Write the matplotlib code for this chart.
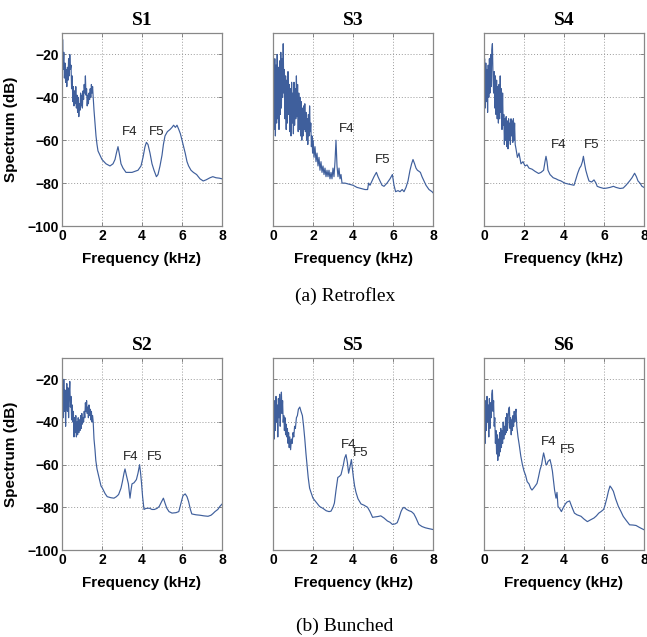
import matplotlib
matplotlib.use("Agg")
import matplotlib.pyplot as plt

# Spectra (frequency in kHz, level in dB) for each speaker
S1_SPECTRUM = [
    (0.00, -38), (0.03, -13), (0.06, -27), (0.09, -19), (0.12, -31), (0.15, -24), (0.18, -33),
    (0.21, -27), (0.24, -35), (0.27, -26), (0.30, -32), (0.33, -22), (0.36, -30), (0.39, -20),
    (0.42, -27), (0.45, -25), (0.48, -36), (0.51, -30), (0.54, -42), (0.57, -35), (0.60, -44),
    (0.63, -37), (0.66, -43), (0.69, -35), (0.72, -45), (0.75, -39), (0.78, -47), (0.81, -40),
    (0.84, -49), (0.87, -43), (0.90, -46), (0.93, -38), (0.96, -44), (0.99, -39), (1.02, -45),
    (1.05, -37), (1.08, -41), (1.11, -34), (1.14, -38), (1.17, -30), (1.20, -39), (1.23, -36),
    (1.26, -44), (1.29, -39), (1.32, -43), (1.35, -38), (1.38, -41), (1.41, -36), (1.44, -40),
    (1.47, -34), (1.50, -38), (1.53, -35), (1.56, -40), (1.60, -46), (1.65, -52), (1.70, -58),
    (1.75, -62), (1.80, -65), (1.90, -67), (2.00, -69), (2.20, -71), (2.40, -72), (2.55, -71),
    (2.65, -69), (2.72, -66), (2.80, -63), (2.88, -67), (2.95, -71), (3.05, -73), (3.20, -75),
    (3.50, -75), (3.80, -74), (3.95, -72), (4.05, -68), (4.15, -63), (4.22, -61), (4.30, -62),
    (4.40, -66), (4.50, -71), (4.60, -74), (4.72, -77), (4.80, -76), (4.90, -72), (5.00, -67),
    (5.07, -62), (5.15, -58), (5.27, -56), (5.40, -55), (5.50, -54), (5.58, -53), (5.67, -54),
    (5.75, -53), (5.84, -55), (5.92, -57), (6.00, -60), (6.08, -63), (6.16, -66), (6.25, -70),
    (6.33, -72), (6.45, -74), (6.57, -75), (6.73, -76), (6.90, -78), (7.06, -79), (7.20, -78.5),
    (7.40, -77.5), (7.54, -77), (7.70, -77.5), (7.87, -77.7), (8.00, -78),
]

S3_SPECTRUM = [
    (0.00, -48), (0.03, -28), (0.06, -55), (0.09, -22), (0.12, -58), (0.15, -25), (0.18, -52),
    (0.21, -20), (0.24, -50), (0.27, -26), (0.30, -55), (0.33, -23), (0.36, -48), (0.39, -19),
    (0.42, -45), (0.45, -22), (0.48, -40), (0.51, -15), (0.54, -38), (0.57, -27), (0.60, -50),
    (0.63, -30), (0.66, -55), (0.69, -32), (0.72, -52), (0.75, -28), (0.78, -48), (0.81, -34),
    (0.84, -56), (0.87, -36), (0.90, -58), (0.93, -33), (0.96, -52), (0.99, -38), (1.02, -57),
    (1.05, -33), (1.08, -53), (1.11, -36), (1.14, -50), (1.17, -30), (1.20, -49), (1.23, -34),
    (1.26, -56), (1.29, -38), (1.32, -55), (1.35, -40), (1.38, -58), (1.41, -42), (1.44, -60),
    (1.47, -45), (1.50, -58), (1.53, -44), (1.56, -55), (1.59, -43), (1.62, -56), (1.65, -47),
    (1.68, -60), (1.71, -50), (1.74, -62), (1.77, -48), (1.80, -58), (1.83, -44), (1.86, -56),
    (1.89, -52), (1.92, -63), (1.95, -58), (1.98, -66), (2.01, -60), (2.05, -68), (2.10, -63),
    (2.15, -70), (2.20, -66), (2.25, -72), (2.30, -68), (2.35, -74), (2.40, -70), (2.45, -75),
    (2.50, -72), (2.55, -76), (2.60, -73), (2.65, -77), (2.70, -74), (2.75, -77), (2.80, -74),
    (2.85, -78), (2.90, -75), (2.95, -78), (3.00, -73), (3.05, -77), (3.10, -70), (3.15, -60),
    (3.20, -72), (3.25, -77), (3.30, -73), (3.35, -78), (3.40, -76), (3.45, -80), (3.60, -80),
    (3.80, -80.5), (4.00, -81), (4.20, -82), (4.40, -82.5), (4.60, -83), (4.73, -83), (4.78, -80),
    (4.85, -81), (4.95, -79), (5.05, -77), (5.17, -75), (5.25, -77), (5.35, -79), (5.45, -81),
    (5.55, -81.5), (5.70, -80), (5.85, -78), (5.97, -76), (6.05, -81), (6.13, -84), (6.25, -83.5),
    (6.35, -84), (6.46, -83), (6.55, -84), (6.65, -82), (6.75, -79), (6.85, -74), (6.93, -71),
    (7.00, -69), (7.08, -71), (7.15, -73), (7.22, -74), (7.30, -74.5), (7.37, -75), (7.45, -77),
    (7.55, -79), (7.65, -81), (7.80, -83), (7.95, -84), (8.00, -84.5),
]

S4_SPECTRUM = [
    (0.00, -30), (0.03, -22), (0.06, -45), (0.09, -24), (0.12, -42), (0.15, -27), (0.18, -47),
    (0.21, -25), (0.24, -40), (0.27, -22), (0.30, -38), (0.33, -20), (0.36, -35), (0.39, -18),
    (0.42, -15), (0.45, -30), (0.48, -38), (0.51, -28), (0.54, -45), (0.57, -30), (0.60, -48),
    (0.63, -32), (0.66, -50), (0.69, -35), (0.72, -52), (0.75, -34), (0.78, -50), (0.81, -30),
    (0.84, -47), (0.87, -36), (0.90, -55), (0.93, -38), (0.96, -53), (0.99, -48), (1.02, -62),
    (1.05, -50), (1.08, -60), (1.11, -49), (1.14, -63), (1.17, -51), (1.20, -64), (1.23, -50),
    (1.26, -60), (1.29, -52), (1.32, -62), (1.35, -50), (1.38, -58), (1.41, -51), (1.44, -61),
    (1.47, -50), (1.50, -60), (1.53, -52), (1.56, -62), (1.60, -64), (1.67, -68), (1.75, -66),
    (1.85, -71), (1.95, -70), (2.05, -72), (2.15, -71.5), (2.25, -73), (2.40, -73.5),
    (2.55, -74.5), (2.73, -75.5), (2.85, -75), (2.98, -74), (3.05, -70), (3.10, -67.5),
    (3.15, -70), (3.20, -74), (3.30, -76), (3.46, -77.5), (3.60, -78), (3.70, -78.5), (3.85, -79),
    (4.03, -80), (4.25, -80.5), (4.50, -81), (4.60, -78), (4.68, -75.5), (4.78, -73), (4.85, -72),
    (4.92, -70), (4.97, -67.5), (5.03, -71), (5.09, -74), (5.18, -77), (5.25, -79), (5.38, -79.5),
    (5.50, -78.5), (5.60, -80), (5.66, -81.5), (5.80, -82), (6.00, -82.5), (6.15, -82.3),
    (6.30, -82), (6.47, -81.5), (6.60, -82), (6.80, -82.5), (6.96, -82.3), (7.10, -81),
    (7.28, -79), (7.40, -77.5), (7.53, -75.4), (7.62, -77), (7.70, -79), (7.80, -80),
    (7.90, -81.5), (8.00, -82),
]

S2_SPECTRUM = [
    (0.00, -45), (0.03, -22), (0.06, -38), (0.09, -20), (0.12, -35), (0.15, -25), (0.18, -42),
    (0.21, -30), (0.24, -22), (0.27, -35), (0.30, -24), (0.33, -38), (0.36, -27), (0.39, -21),
    (0.42, -33), (0.45, -28), (0.48, -39), (0.51, -32), (0.54, -40), (0.57, -35), (0.60, -47),
    (0.63, -38), (0.66, -45), (0.69, -37), (0.72, -47), (0.75, -40), (0.78, -46), (0.81, -38),
    (0.84, -45), (0.87, -39), (0.90, -44), (0.93, -37), (0.96, -43), (0.99, -36), (1.02, -41),
    (1.05, -38), (1.08, -40), (1.11, -35), (1.14, -38), (1.17, -31), (1.20, -35), (1.23, -30),
    (1.26, -36), (1.29, -33), (1.32, -38), (1.35, -32), (1.38, -37), (1.41, -34), (1.44, -39),
    (1.47, -35), (1.50, -40), (1.53, -37), (1.56, -40), (1.60, -48), (1.65, -53), (1.69, -58),
    (1.75, -62), (1.85, -66), (1.95, -70), (2.02, -71), (2.15, -73.5), (2.26, -75), (2.45, -75.5),
    (2.60, -75.7), (2.72, -75), (2.83, -74), (2.95, -71), (3.02, -68), (3.10, -64), (3.15, -62),
    (3.22, -65), (3.32, -69), (3.40, -75.7), (3.45, -72), (3.50, -69), (3.60, -68.5), (3.72, -67),
    (3.80, -64), (3.88, -60), (3.93, -64), (3.97, -68), (4.03, -75), (4.10, -81), (4.20, -80.5),
    (4.37, -80.4), (4.50, -81), (4.62, -81), (4.75, -80.5), (4.86, -79.6), (4.97, -77.5),
    (5.07, -75.7), (5.15, -78), (5.24, -80.4), (5.35, -82), (5.50, -82.7), (5.70, -82.5),
    (5.84, -82), (5.95, -78), (6.05, -74.5), (6.16, -73.7), (6.25, -75), (6.33, -77.3),
    (6.42, -81), (6.49, -83.1), (6.70, -83.5), (6.90, -83.7), (7.10, -84), (7.30, -84.2),
    (7.45, -83.7), (7.54, -83), (7.65, -82), (7.79, -81), (7.90, -79.5), (8.00, -78.5),
]

S5_SPECTRUM = [
    (0.00, -40), (0.03, -34), (0.06, -48), (0.09, -30), (0.12, -44), (0.15, -28), (0.18, -40),
    (0.21, -32), (0.24, -47), (0.27, -29), (0.30, -38), (0.33, -27), (0.36, -42), (0.39, -31),
    (0.42, -26), (0.45, -36), (0.48, -30), (0.51, -40), (0.54, -37), (0.57, -44), (0.60, -38),
    (0.63, -46), (0.66, -41), (0.69, -47), (0.72, -43), (0.75, -50), (0.78, -45), (0.81, -52),
    (0.84, -47), (0.88, -53), (0.92, -48), (0.96, -50), (1.00, -45), (1.04, -47), (1.08, -42),
    (1.12, -43), (1.17, -38), (1.22, -37), (1.27, -34), (1.34, -33), (1.40, -35), (1.47, -37),
    (1.53, -42), (1.59, -48), (1.65, -55), (1.70, -60), (1.76, -66), (1.83, -71), (1.90, -73),
    (2.00, -75.7), (2.15, -77.5), (2.33, -79.6), (2.50, -80.5), (2.66, -81.6), (2.80, -82),
    (2.90, -81.8), (3.00, -80), (3.07, -78), (3.15, -72), (3.24, -66), (3.32, -65.5),
    (3.40, -64.7), (3.47, -62), (3.52, -60), (3.58, -57), (3.65, -55.3), (3.72, -59), (3.78, -64),
    (3.85, -61), (3.92, -57.6), (3.97, -62), (4.02, -66), (4.08, -70), (4.15, -73), (4.25, -76),
    (4.40, -78.4), (4.55, -79), (4.73, -80), (4.85, -82), (4.98, -84.7), (5.10, -84.5),
    (5.25, -84.3), (5.39, -84), (5.55, -85), (5.72, -86.4), (5.85, -87), (5.97, -88),
    (6.10, -87.8), (6.21, -87.2), (6.30, -85), (6.40, -82), (6.48, -80.5), (6.55, -80),
    (6.68, -81), (6.80, -81.6), (6.92, -82), (7.04, -83), (7.15, -85), (7.29, -88), (7.45, -89),
    (7.62, -89.6), (7.80, -90), (8.00, -90.4),
]

S6_SPECTRUM = [
    (0.00, -45), (0.03, -33), (0.06, -50), (0.09, -30), (0.12, -44), (0.15, -28), (0.18, -40),
    (0.21, -32), (0.24, -47), (0.27, -29), (0.30, -43), (0.33, -31), (0.36, -38), (0.39, -27),
    (0.42, -25), (0.45, -35), (0.48, -30), (0.51, -42), (0.54, -38), (0.57, -50), (0.60, -44),
    (0.63, -55), (0.66, -46), (0.69, -58), (0.72, -48), (0.75, -56), (0.78, -45), (0.81, -54),
    (0.84, -43), (0.87, -52), (0.90, -44), (0.93, -50), (0.96, -40), (0.99, -48), (1.02, -42),
    (1.05, -46), (1.08, -38), (1.11, -45), (1.14, -36), (1.17, -44), (1.20, -40), (1.23, -34),
    (1.27, -33), (1.30, -43), (1.33, -38), (1.36, -46), (1.39, -39), (1.42, -44), (1.45, -37),
    (1.48, -42), (1.51, -35), (1.54, -40), (1.57, -36), (1.60, -34), (1.64, -42), (1.70, -47),
    (1.76, -50.6), (1.84, -56), (1.92, -60), (2.00, -63), (2.08, -65), (2.16, -68), (2.25, -69),
    (2.33, -71), (2.40, -71.9), (2.48, -71), (2.56, -70), (2.65, -68.8), (2.72, -66),
    (2.80, -62.4), (2.88, -60), (2.93, -57), (2.98, -54.5), (3.04, -57), (3.10, -60), (3.14, -60),
    (3.20, -58.5), (3.30, -57.6), (3.36, -60), (3.42, -63), (3.46, -66.3), (3.53, -72),
    (3.60, -75.7), (3.65, -73), (3.70, -79.6), (3.78, -80.5), (3.87, -82), (3.97, -80),
    (4.07, -78.4), (4.15, -77.5), (4.28, -77), (4.40, -80), (4.52, -82.7), (4.65, -83.5),
    (4.85, -84.2), (5.00, -85.5), (5.17, -86.7), (5.30, -86), (5.50, -85), (5.62, -84),
    (5.74, -82.7), (5.85, -82), (5.98, -81), (6.05, -79), (6.15, -75.4), (6.22, -72.5),
    (6.30, -70), (6.38, -71), (6.47, -72.5), (6.58, -76), (6.72, -79.6), (6.85, -82),
    (6.96, -84.2), (7.10, -86), (7.28, -88.2), (7.45, -88.3), (7.60, -88.5), (7.75, -89.3),
    (7.85, -89.8), (8.00, -90.5),
]

# Formant label positions (kHz, dB) per panel
FORMANT_LABELS = {
    "S1": [("F4", 3.4, -56.0), ("F5", 4.75, -56.0)],
    "S3": [("F4", 3.7, -55.0), ("F5", 5.5, -69.0)],
    "S4": [("F4", 3.75, -62.0), ("F5", 5.4, -62.0)],
    "S2": [("F4", 3.45, -56.3), ("F5", 4.65, -56.3)],
    "S5": [("F4", 3.8, -51.0), ("F5", 4.4, -54.7)],
    "S6": [("F4", 3.25, -49.5), ("F5", 4.2, -53.1)],
}

ROWS = [
    [("S1", S1_SPECTRUM), ("S3", S3_SPECTRUM), ("S4", S4_SPECTRUM)],
    [("S2", S2_SPECTRUM), ("S5", S5_SPECTRUM), ("S6", S6_SPECTRUM)],
]
ROW_CAPTIONS = ["(a) Retroflex", "(b) Bunched"]
X_TICKS = [0, 2, 4, 6, 8]
Y_TICKS = [-100, -80, -60, -40, -20]

SANS = ["Liberation Sans", "DejaVu Sans"]
SERIF = ["Liberation Serif", "DejaVu Serif"]
LINE_COLOR = "#3f5f9c"

W, H = 647, 637
fig = plt.figure(figsize=(W / 100, H / 100), dpi=100)

col_left_px = [62, 273, 484]
ax_w_px = 160
row_top_px = [33, 358]
row_bot_px = [226, 550]
caption_y_px = [296, 626]

for r, row in enumerate(ROWS):
    for c, (name, spectrum) in enumerate(row):
        left = col_left_px[c] / W
        bottom = 1 - row_bot_px[r] / H
        height = (row_bot_px[r] - row_top_px[r]) / H
        ax = fig.add_axes([left, bottom, ax_w_px / W, height])
        freq = [p[0] for p in spectrum]
        level = [p[1] for p in spectrum]
        ax.plot(freq, level, color=LINE_COLOR, lw=0.85)
        ax.set_xlim(0, 8)
        ax.set_ylim(-100, -10)
        ax.set_xticks(X_TICKS)
        ax.set_yticks(Y_TICKS)
        ax.grid(True, linestyle=(0, (1, 2)), color="#9a9a9a", lw=0.7)
        ax.tick_params(direction="in", length=3, width=0.6, color="#777777",
                       top=True, right=True, pad=2)
        for lbl in ax.get_xticklabels() + ax.get_yticklabels():
            lbl.set_fontfamily(SANS)
            lbl.set_fontweight("bold")
            lbl.set_fontsize(10)
        if c != 0:
            ax.set_yticklabels([])
        else:
            ax.set_ylabel("Spectrum (dB)", family=SANS, fontweight="bold", fontsize=11)
            ax.yaxis.set_label_coords(-0.275, 0.5)
        ax.set_xlabel("Frequency (kHz)", family=SANS, fontweight="bold", fontsize=11)
        ax.xaxis.set_label_coords(0.5, -0.135)
        for sp in ax.spines.values():
            sp.set_color("#888888")
            sp.set_linewidth(0.9)
        ax.set_title(name, family=SERIF, fontweight="bold", fontsize=14, pad=6)
        for text, fx, fy in FORMANT_LABELS[name]:
            ax.text(fx, fy, text, family=SANS, fontsize=9.5, ha="center", va="center",
                    color="#222222")
    fig.text(345 / W, 1 - caption_y_px[r] / H, ROW_CAPTIONS[r], family=SERIF,
             fontsize=14, ha="center", va="center")

fig.savefig("out.png", dpi=100, facecolor="white")
